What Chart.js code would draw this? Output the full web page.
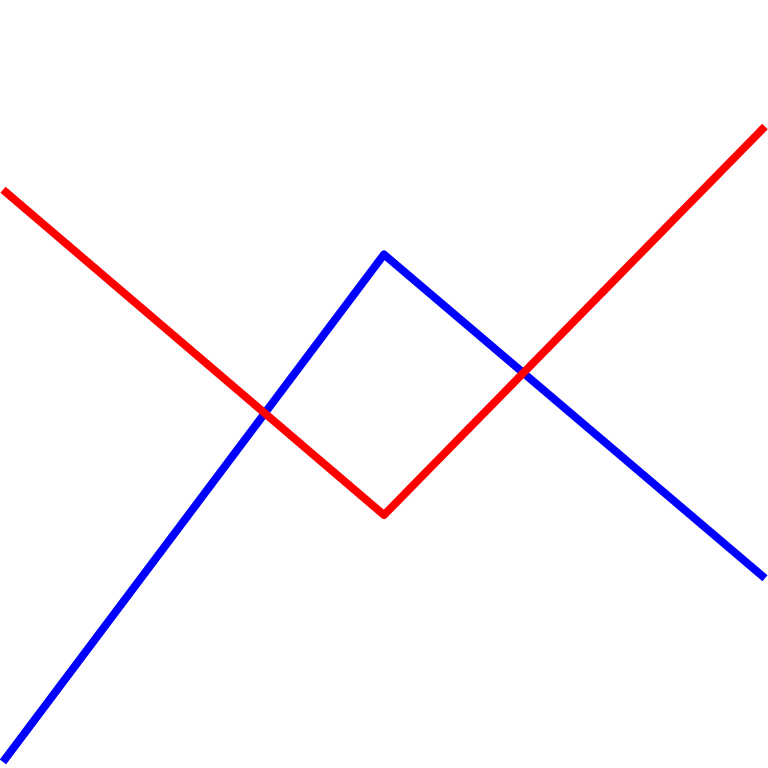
<!DOCTYPE html>
<html>
<head>
<meta charset="utf-8">
<script src="https://cdn.jsdelivr.net/npm/chart.js@4/dist/chart.umd.min.js"></script>
<style>
html,body{margin:0;padding:0;background:#fff;overflow:hidden;}
#wrap{width:768px;height:768px;}
</style>
</head>
<body>
<div id="wrap"><canvas id="c" width="768" height="768"></canvas></div>
<script>
const categories = ["A", "B", "C"];
const blueValues = [0.4, 67.0, 24.5];
const redValues = [75.5, 32.8, 83.8];

new Chart(document.getElementById('c'), {
  type: 'line',
  data: {
    labels: categories,
    datasets: [
      { label: 'blue', data: blueValues, order: 2, borderColor: '#0000ff', borderWidth: 8, pointRadius: 0, tension: 0, fill: false, borderJoinStyle: 'round', borderCapStyle: 'butt' },
      { label: 'red', data: redValues, order: 1, borderColor: '#ff0000', borderWidth: 8, pointRadius: 0, tension: 0, fill: false, borderJoinStyle: 'round', borderCapStyle: 'butt' }
    ]
  },
  options: {
    responsive: false,
    animation: false,
    layout: { padding: 3 },
    plugins: { legend: { display: false }, tooltip: { enabled: false } },
    scales: {
      x: { display: false, offset: false },
      y: { display: false, min: 0, max: 100 }
    }
  }
});
</script>
</body>
</html>
